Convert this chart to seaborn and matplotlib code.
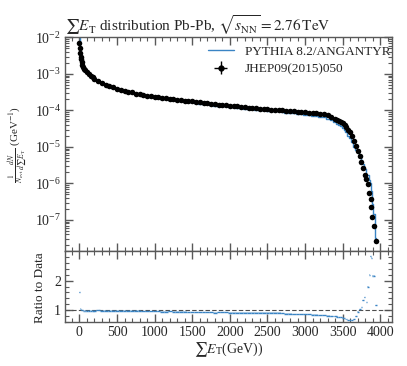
import numpy as np
import matplotlib
matplotlib.use("Agg")
import matplotlib.pyplot as plt
from matplotlib.ticker import MultipleLocator, FixedLocator
from matplotlib.lines import Line2D
import seaborn as sns

# --- data ------------------------------------------------------------------
# bin centres of the measured distribution (GeV)
sum_et = [0, 5, 10, 15, 20, 30, 40, 50, 65, 80, 100, 125, 150, 175, 200,
          250, 300, 350, 400, 450, 500, 550, 600, 650, 700, 750, 800, 850,
          900, 950, 1000, 1050, 1100, 1150, 1200, 1250, 1300, 1350, 1400,
          1450, 1500, 1550, 1600, 1650, 1700, 1750, 1800, 1850, 1900, 1950,
          2000, 2050, 2100, 2150, 2200, 2250, 2300, 2350, 2400, 2450, 2500,
          2550, 2600, 2650, 2700, 2750, 2800, 2850, 2900, 2950, 3000, 3050,
          3100, 3150, 3200, 3250, 3300, 3350, 3400, 3425, 3450, 3475, 3500,
          3525, 3550, 3572, 3594, 3625, 3651, 3673, 3704, 3726, 3749, 3770,
          3792, 3815, 3836, 3855, 3870, 3882, 3895, 3912, 3940]

# JHEP09(2015)050, 1/N dN/dSumEt (GeV^-1)
data_y = [6.9e-3, 5.0e-3, 3.8e-3, 3.0e-3, 2.5e-3, 2.1e-3, 1.78e-3, 1.58e-3,
          1.38e-3, 1.26e-3, 1.12e-3, 9.8e-4, 8.9e-4, 8.1e-4, 7.4e-4, 6.3e-4,
          5.6e-4, 5.0e-4, 4.6e-4, 4.3e-4, 3.9e-4, 3.6e-4, 3.4e-4, 3.2e-4,
          3.1e-4, 2.9e-4, 2.8e-4, 2.66e-4, 2.54e-4, 2.45e-4, 2.37e-4, 2.29e-4,
          2.21e-4, 2.14e-4, 2.07e-4, 2.02e-4, 1.97e-4, 1.93e-4, 1.86e-4,
          1.82e-4, 1.76e-4, 1.72e-4, 1.66e-4, 1.62e-4, 1.58e-4, 1.53e-4,
          1.48e-4, 1.45e-4, 1.41e-4, 1.38e-4, 1.35e-4, 1.32e-4, 1.29e-4,
          1.26e-4, 1.23e-4, 1.20e-4, 1.17e-4, 1.15e-4, 1.12e-4, 1.10e-4,
          1.07e-4, 1.06e-4, 1.035e-4, 1.02e-4, 1.00e-4, 9.9e-5, 9.8e-5,
          9.5e-5, 9.3e-5, 9.1e-5, 8.9e-5, 8.7e-5, 8.5e-5, 8.3e-5, 8.0e-5,
          7.8e-5, 7.3e-5, 6.8e-5, 6.0e-5, 5.6e-5, 5.2e-5, 4.9e-5, 4.5e-5,
          4.1e-5, 3.6e-5, 3.0e-5, 2.6e-5, 2.0e-5, 1.45e-5, 1.05e-5, 7.7e-6,
          5.6e-6, 3.9e-6, 2.6e-6, 1.7e-6, 1.3e-6, 9.5e-7, 5.6e-7, 3.7e-7,
          2.3e-7, 1.23e-7, 6.9e-8, 2.7e-8]

# PYTHIA 8.2/ANGANTYR divided by data (lower panel)
ratio_mc = [1.61, 1.24, 1.11, 1.05, 1.02, 1.00, 1.00, 0.99, 0.99, 0.99, 0.99,
            0.99, 0.99, 0.99, 0.99, 1.00, 0.99, 0.99, 0.98, 0.98, 0.98, 0.99,
            0.99, 0.98, 0.98, 0.98, 0.98, 0.97, 0.97, 0.97, 0.97, 0.96, 0.95,
            0.95, 0.96, 0.95, 0.95, 0.95, 0.95, 0.94, 0.94, 0.94, 0.93, 0.94,
            0.93, 0.93, 0.92, 0.93, 0.93, 0.93, 0.92, 0.92, 0.91, 0.92, 0.91,
            0.92, 0.91, 0.92, 0.91, 0.91, 0.91, 0.92, 0.91, 0.92, 0.90, 0.88,
            0.88, 0.87, 0.87, 0.86, 0.86, 0.86, 0.85, 0.85, 0.84, 0.83, 0.82,
            0.80, 0.79, 0.78, 0.77, 0.76, 0.75, 0.73, 0.70, 0.67, 0.66, 0.67,
            0.70, 0.80, 0.95, 1.04, 1.11, 1.33, 1.44, 1.28, 1.80, 2.20, 2.83,
            2.78, 2.17, 2.17, 1.17]

x = np.array(sum_et, dtype=float)
y = np.array(data_y)
r = np.array(ratio_mc)
mc_y = y * r  # the simulation curve is the ratio times the data

# half bin widths, only used for the horizontal ratio segments
edges = np.concatenate([[x[0] - 2.5], (x[1:] + x[:-1]) / 2, [x[-1] + 14]])
half_w = np.diff(edges) / 2
centres = (edges[1:] + edges[:-1]) / 2

sns.set_theme(style="ticks")
plt.rcParams["font.family"] = ["Liberation Serif", "DejaVu Serif"]
plt.rcParams["mathtext.fontset"] = "stix"

blue = "#3a84c4"
spine_col = "0.35"

fig = plt.figure(figsize=(4.07, 3.66), dpi=100)
ax = fig.add_axes([0.160, 0.314, 0.803, 0.585])
axr = fig.add_axes([0.160, 0.120, 0.803, 0.194], sharex=ax)

# top panel
sns.lineplot(x=x, y=mc_y, ax=ax, color=blue, lw=1.0, drawstyle="steps-mid",
             estimator=None, sort=False)
sns.scatterplot(x=x, y=y, ax=ax, color="black", s=16, linewidth=0, zorder=3)
ax.set_yscale("log")
ax.set_ylim(1.4e-8, 1.03e-2)
ax.set_xlim(-190, 4155)
ax.set_xlabel("")
ax.set_ylabel(r"$\frac{1}{N_{\rm evt}}\frac{dN}{d\sum E_{\rm T}}$ (GeV$^{-1}$)",
              fontsize=8)
ax.tick_params(labelbottom=False)
ax.set_title(r"$\sum E_{\rm T}$ distribution Pb-Pb, $\sqrt{s_{\rm NN}}=2.76\,{\rm TeV}$",
             loc="left", fontsize=11, pad=3)

h_mc = Line2D([], [], color=blue, lw=1.0)
h_data = ax.errorbar([np.nan], [np.nan], xerr=[1], yerr=[1], fmt="o",
                     color="black", ms=3.5, elinewidth=1.0, capsize=0)
ax.legend([h_mc, h_data], ["PYTHIA 8.2/ANGANTYR", "JHEP09(2015)050"],
          loc="upper left", bbox_to_anchor=(0.42, 0.985), frameon=False,
          fontsize=9.5, handlelength=2.0, borderaxespad=0, labelspacing=0.4)

# ratio panel
axr.axhline(1.0, color="0.3", lw=0.8, ls=(0, (4, 2)), zorder=1)
axr.fill_between(centres, r - 0.015, r + 0.015, step="mid",
                 color=blue, alpha=0.35, lw=0)
axr.errorbar(x, r, xerr=half_w, fmt="none", ecolor=blue, elinewidth=1.0)
axr.set_ylim(0.6, 3.0)
axr.set_ylabel("Ratio to Data", fontsize=9.5)
axr.set_xlabel(r"$\sum E_{\rm T}$(GeV))", fontsize=10, labelpad=1)
axr.xaxis.set_major_locator(MultipleLocator(500))
axr.xaxis.set_minor_locator(MultipleLocator(100))
axr.yaxis.set_major_locator(FixedLocator([1, 2]))
axr.yaxis.set_minor_locator(MultipleLocator(0.2))

for a in (ax, axr):
    for sp in a.spines.values():
        sp.set_color(spine_col)
        sp.set_linewidth(1.0)
    a.tick_params(which="both", direction="in", top=True, right=True,
                  color=spine_col, labelsize=10, pad=3)
    a.tick_params(which="major", length=6, width=1.0)
    a.tick_params(which="minor", length=3, width=0.8)

axr.yaxis.set_label_coords(-0.06, 0.48)

fig.savefig("out.png", dpi=100)
